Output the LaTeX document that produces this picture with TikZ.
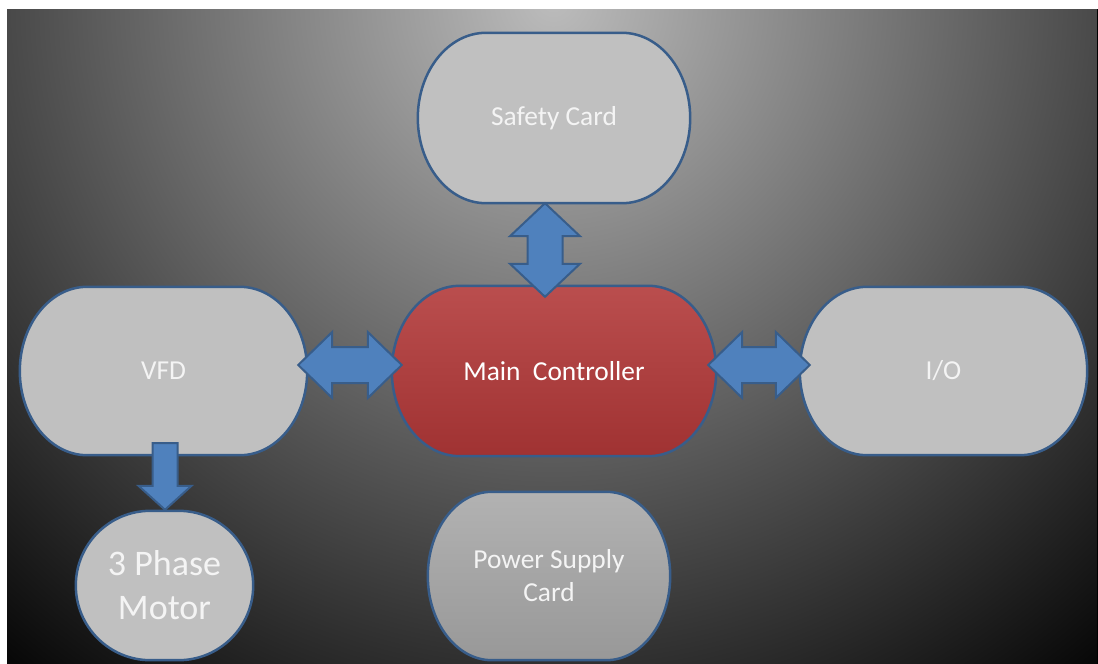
\documentclass[tikz,border=0pt]{standalone}
\usepackage{fontspec}
\setmainfont{Carlito}
\usetikzlibrary{calc}

\definecolor{bginner}{RGB}{188,188,188}
\definecolor{bgouter}{RGB}{8,8,8}
\definecolor{cardfill}{RGB}{192,192,192}
\definecolor{cardline}{RGB}{56,93,138}
\definecolor{arrowfill}{RGB}{79,129,189}
\definecolor{redtop}{RGB}{186,78,78}
\definecolor{redbot}{RGB}{160,50,50}
\definecolor{psutop}{RGB}{178,178,178}
\definecolor{psubot}{RGB}{152,152,152}
\definecolor{labelwhite}{RGB}{244,244,244}

% soft glow of the backdrop, brightest at the top centre
\pgfdeclareradialshading{bgglow}{\pgfpointorigin}{color(0bp)=(bginner); color(50bp)=(bgouter); color(70bp)=(bgouter)}

\pgfdeclarelayer{bglayer}
\pgfdeclarelayer{shapelayer}
\pgfsetlayers{bglayer,shapelayer,main}

% rounded "terminator" outline around a node: flat top and bottom, elliptic ends
% #1 node, #2 style, #3 end radius as a fraction of the height
\newcommand\termshape[3]{%
  \path[#2] let \p1=(#1.north west), \p2=(#1.south east),
      \n1={#3*(\y1-\y2)}, \n2={0.5*(\y1-\y2)} in
    (\x1+\n1,\y1) -- (\x2-\n1,\y1)
    arc[start angle=90, end angle=-90, x radius=\n1, y radius=\n2]
    -- (\x1+\n1,\y2)
    arc[start angle=270, end angle=90, x radius=\n1, y radius=\n2] -- cycle;
}

% block arrow with heads at both ends: tip, tip, half shaft, half head, head length
\newcommand\dblblock[5]{%
  \draw[blockarrow] (#1)
    -- ($(#1)!#5!(#2)!#4!90:(#2)$)
    -- ($(#1)!#5!(#2)!#3!90:(#2)$)
    -- ($(#2)!#5!(#1)!#3!-90:(#1)$)
    -- ($(#2)!#5!(#1)!#4!-90:(#1)$)
    -- (#2)
    -- ($(#2)!#5!(#1)!#4!90:(#1)$)
    -- ($(#2)!#5!(#1)!#3!90:(#1)$)
    -- ($(#1)!#5!(#2)!#3!-90:(#2)$)
    -- ($(#1)!#5!(#2)!#4!-90:(#2)$)
    -- cycle;
}

% block arrow with one head: tail, tip, half shaft, half head, head length
\newcommand\oneblock[5]{%
  \draw[blockarrow] ($(#1)!#3!90:(#2)$)
    -- ($(#2)!#5!(#1)!#3!-90:(#1)$)
    -- ($(#2)!#5!(#1)!#4!-90:(#1)$)
    -- (#2)
    -- ($(#2)!#5!(#1)!#4!90:(#1)$)
    -- ($(#2)!#5!(#1)!#3!90:(#1)$)
    -- ($(#1)!#3!-90:(#2)$)
    -- cycle;
}

\tikzset{
  lbl/.style={text=labelwhite, align=center, inner sep=0pt,
    font=\fontsize{27.4}{33}\selectfont},
  biglbl/.style={lbl, font=\fontsize{36}{44}\selectfont},
  cardshape/.style={draw=cardline, line width=2.5pt, fill=cardfill},
  redshape/.style={draw=cardline, line width=2.5pt, top color=redtop, bottom color=redbot},
  psushape/.style={draw=cardline, line width=2.5pt, top color=psutop, bottom color=psubot},
  blockarrow/.style={draw=cardline, line width=2pt, fill=arrowfill, line join=miter},
}

\begin{document}
\begin{tikzpicture}[x=1pt, y=-1pt]
\useasboundingbox (0,0) rectangle (1098,664);

% blocks (text only; outlines go on the shape layer)
\node[lbl, minimum width=272pt, minimum height=170pt] (safety) at (554,118) {Safety Card};
\node[lbl, minimum width=287pt, minimum height=168pt] (vfd) at (163.5,371) {VFD};
\node[lbl, text=white, minimum width=324pt, minimum height=170pt] (main) at (554,371) {Main\ \ Controller};
\node[lbl, minimum width=287pt, minimum height=168pt] (io) at (943.5,371) {I/O};
\node[biglbl, minimum width=177pt, minimum height=149pt] (motor) at (164.5,585.5) {3 Phase\\Motor};
\node[lbl, minimum width=242pt, minimum height=168pt] (psu) at (549,576) {Power Supply\\Card};

% backdrop: white margin, then a radial glow from the top centre
\begin{pgfonlayer}{bglayer}
  \fill[white] (0,0) rectangle (1098,664);
  \begin{scope}
    \clip (7,9) rectangle (1098,664);
    \pgftransformshift{\pgfpointxy{553}{0}}
    \pgftransformscale{17}
    \pgflowlevelsynccm
    \pgfuseshading{bgglow}
  \end{scope}
  \fill[black] (1096.5,9) rectangle (1098,664);
\end{pgfonlayer}

\begin{pgfonlayer}{shapelayer}
  \termshape{safety}{cardshape}{0.4}
  \termshape{vfd}{cardshape}{0.4}
  \termshape{main}{redshape}{0.4}
  \termshape{io}{cardshape}{0.4}
  \termshape{motor}{cardshape}{0.5}
  \termshape{psu}{psushape}{0.38}
\end{pgfonlayer}

% connector end points
\coordinate (sm1) at ($(safety.south)+(-9,0)$);
\coordinate (sm2) at ($(main.north)+(-9,11)$);
\coordinate (vm1) at ($(vfd.east)+(-9,-6)$);
\coordinate (vm2) at ($(main.west)+(10,-6)$);
\coordinate (mi1) at ($(main.east)+(-8,-6)$);
\coordinate (mi2) at ($(io.west)+(10,-6)$);
\coordinate (vmo1) at ($(vfd.south)+(1.5,-12)$);
\coordinate (vmo2) at ($(motor.north)+(0.5,-1)$);

\dblblock{sm1}{sm2}{17.5pt}{35pt}{33pt}
\dblblock{vm1}{vm2}{18pt}{33pt}{34pt}
\dblblock{mi1}{mi2}{18pt}{33pt}{34pt}
\oneblock{vmo1}{vmo2}{12.5pt}{26.5pt}{24pt}
\end{tikzpicture}
\end{document}
